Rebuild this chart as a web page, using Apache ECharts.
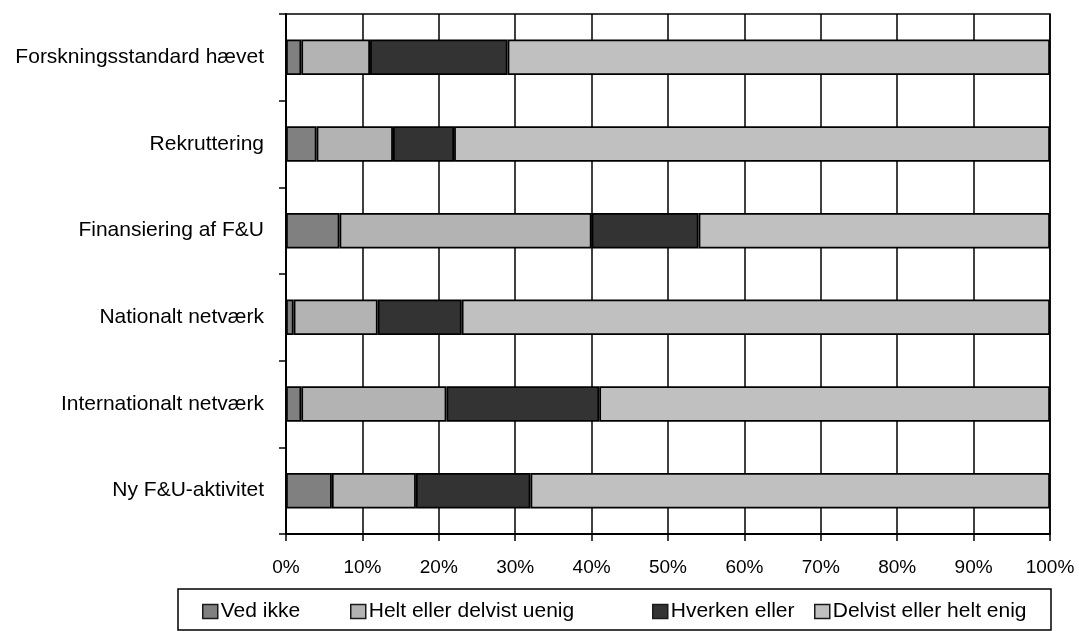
<!DOCTYPE html>
<html>
<head>
<meta charset="utf-8">
<script src="https://cdn.jsdelivr.net/npm/echarts@6/dist/echarts.min.js"></script>
<style>
  html, body { margin: 0; padding: 0; background: #fff; }
  #chart { width: 1079px; height: 631px; }
</style>
</head>
<body>
<div id="chart"></div>
<script>
// Survey answers per statement, share of respondents in percent
const categories = [
  'Forskningsstandard hævet',
  'Rekruttering',
  'Finansiering af F&U',
  'Nationalt netværk',
  'Internationalt netværk',
  'Ny F&U-aktivitet'
];
const vedIkke      = [2, 4, 7, 1, 2, 6];
const heltUenig    = [9, 10, 33, 11, 19, 11];
const hverkenEller = [18, 8, 14, 11, 20, 15];
const delvistEnig  = [71, 78, 46, 77, 59, 68];

const seriesNames = ['Ved ikke', 'Helt eller delvist uenig', 'Hverken eller', 'Delvist eller helt enig'];
const seriesData = [vedIkke, heltUenig, hverkenEller, delvistEnig];
const seriesColors = ['#808080', '#b3b3b3', '#333333', '#c0c0c0'];
const legendLeft = [202, 350, 652, 814];

const font = 'Liberation Sans, Arial, sans-serif';

const chart = echarts.init(document.getElementById('chart'), null, { renderer: 'canvas' });

const series = seriesNames.map((name, i) => ({
  name: name,
  type: 'bar',
  stack: 'total',
  barWidth: '41%',
  data: seriesData[i],
  itemStyle: { color: seriesColors[i], borderColor: '#000', borderWidth: 1.8 },
  emphasis: { disabled: true }
}));

const legends = seriesNames.map((name, i) => ({
  data: [name],
  left: legendLeft[i],
  top: 601,
  itemWidth: 15,
  itemHeight: 14,
  itemGap: 0,
  padding: 0,
  icon: 'rect',
  textStyle: { fontFamily: font, fontSize: 21, color: '#000', padding: [0, 0, 0, -2] },
  itemStyle: { borderColor: '#1a1a1a', borderWidth: 1.5 },
  selectedMode: false
}));

chart.setOption({
  animation: false,
  backgroundColor: '#fff',
  grid: {
    left: 286, right: 29, top: 14, bottom: 97,
    show: true, borderColor: '#000', borderWidth: 1.5, backgroundColor: 'transparent'
  },
  legend: legends,
  graphic: [{
    type: 'rect',
    shape: { x: 178, y: 589, width: 873, height: 41 },
    style: { fill: 'none', stroke: '#000', lineWidth: 1.5 },
    silent: true
  }],
  xAxis: {
    type: 'value',
    min: 0, max: 100, interval: 10,
    axisLine: { show: true, lineStyle: { color: '#000', width: 2 } },
    axisTick: { show: true, length: 7, lineStyle: { color: '#000', width: 1.5 } },
    axisLabel: { formatter: '{value}%', fontFamily: font, fontSize: 19, color: '#000', margin: 24 },
    splitLine: { show: true, lineStyle: { color: '#000', width: 1.5 } }
  },
  yAxis: {
    type: 'category',
    inverse: true,
    data: categories,
    axisLine: { show: true, lineStyle: { color: '#000', width: 2 } },
    axisTick: { show: true, length: 7, lineStyle: { color: '#000', width: 1.5 } },
    axisLabel: { fontFamily: font, fontSize: 21, color: '#000', margin: 22 },
    splitLine: { show: false }
  },
  series: series
});
</script>
</body>
</html>
